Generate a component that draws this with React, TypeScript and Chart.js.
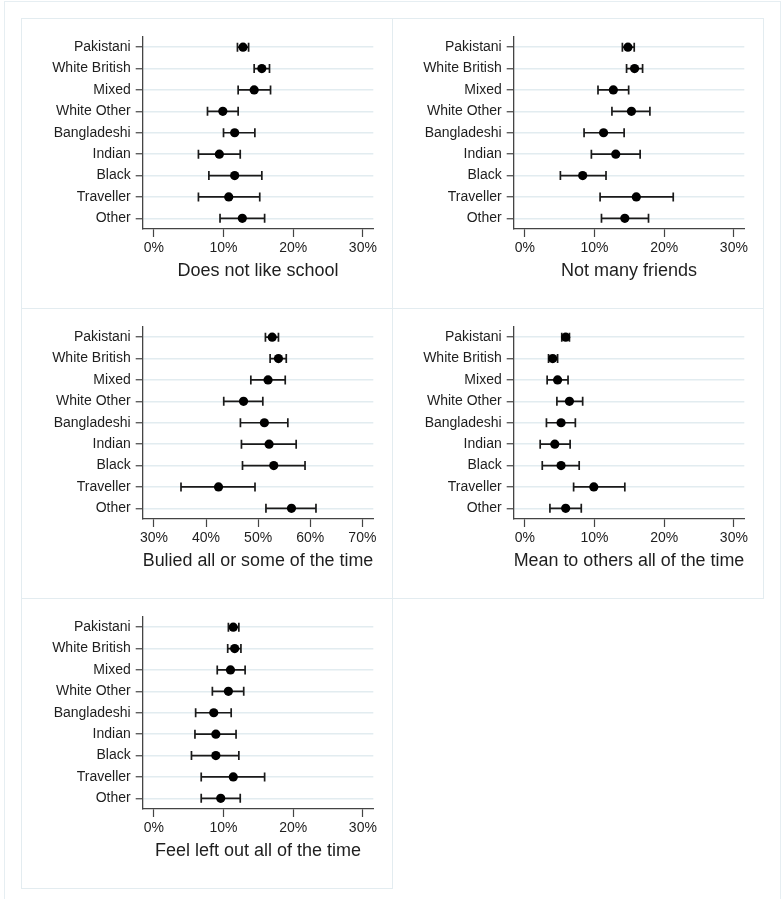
import React, { useEffect, useRef } from 'react';
import { Chart, registerables } from 'chart.js';

Chart.register(...registerables);

const FONT = '"Liberation Sans", Arial, sans-serif';

const categories = ['Pakistani', 'White British', 'Mixed', 'White Other', 'Bangladeshi', 'Indian', 'Black', 'Traveller', 'Other'];

const schoolEst = [12.8, 15.5, 14.4, 9.9, 11.6, 9.4, 11.6, 10.75, 12.7];
const schoolLo = [12.0, 14.4, 12.1, 7.7, 10.0, 6.4, 7.9, 6.4, 9.5];
const schoolHi = [13.6, 16.6, 16.75, 12.1, 14.5, 12.4, 15.5, 15.2, 15.9];

const friendsEst = [14.8, 15.75, 12.7, 15.3, 11.3, 13.05, 8.3, 16.0, 14.35];
const friendsLo = [14.0, 14.6, 10.5, 12.5, 8.5, 9.55, 5.1, 10.8, 11.0];
const friendsHi = [15.7, 16.9, 14.9, 17.95, 14.25, 16.55, 11.65, 21.3, 17.75];

const bulliedEst = [52.7, 53.9, 51.9, 47.2, 51.2, 52.1, 53.0, 42.4, 56.4];
const bulliedLo = [51.4, 52.3, 48.6, 43.4, 46.6, 46.8, 47.0, 35.2, 51.5];
const bulliedHi = [53.9, 55.4, 55.2, 50.9, 55.7, 57.3, 59.0, 49.4, 61.1];

const meanEst = [5.86, 4.0, 4.7, 6.4, 5.2, 4.3, 5.2, 9.9, 5.86];
const meanLo = [5.3, 3.4, 3.2, 4.6, 3.1, 2.2, 2.5, 7.0, 3.6];
const meanHi = [6.4, 4.7, 6.2, 8.3, 7.25, 6.5, 7.8, 14.35, 8.1];

const leftOutEst = [11.4, 11.6, 11.0, 10.7, 8.6, 8.9, 8.9, 11.4, 9.6];
const leftOutLo = [10.7, 10.6, 9.1, 8.4, 6.0, 5.9, 5.4, 6.8, 6.8];
const leftOutHi = [12.2, 12.5, 13.1, 12.9, 11.1, 11.8, 12.2, 15.9, 12.4];

const pctTicks = [0, 10, 20, 30];
const bulliedTicks = [30, 40, 50, 60, 70];

const titles = [
  'Does not like school',
  'Not many friends',
  'Bulied all or some of the time',
  'Mean to others all of the time',
  'Feel left out all of the time',
];

const PW = 371;
const PH = 290;

type PanelProps = {
  left: number;
  top: number;
  title: string;
  est: number[];
  lo: number[];
  hi: number[];
  xMin: number;
  xMax: number;
  xTicks: number[];
};

function Panel({ left, top, title, est, lo, hi, xMin, xMax, xTicks }: PanelProps) {
  const ref = useRef<HTMLCanvasElement>(null);
  useEffect(() => {
    const errorBars = {
      id: 'errorBars',
      beforeDatasetsDraw(chart: any) {
        const { ctx } = chart;
        const xs = chart.scales.x;
        const ys = chart.scales.y;
        ctx.save();
        ctx.strokeStyle = '#1a1a1a';
        ctx.lineWidth = 1.7;
        for (let i = 0; i < est.length; i++) {
          const py = ys.getPixelForValue(i + 1);
          const x1 = xs.getPixelForValue(lo[i]);
          const x2 = xs.getPixelForValue(hi[i]);
          ctx.beginPath();
          ctx.moveTo(x1, py);
          ctx.lineTo(x2, py);
          ctx.moveTo(x1, py - 4.5);
          ctx.lineTo(x1, py + 4.5);
          ctx.moveTo(x2, py - 4.5);
          ctx.lineTo(x2, py + 4.5);
          ctx.stroke();
        }
        ctx.restore();
      },
    };
    const chart = new Chart(ref.current as HTMLCanvasElement, {
      type: 'scatter',
      data: {
        datasets: [
          {
            data: est.map((v, i) => ({ x: v, y: i + 1 })),
            pointRadius: 4.6,
            pointHoverRadius: 4.6,
            pointBackgroundColor: '#000',
            pointBorderColor: '#000',
            pointBorderWidth: 0,
          },
        ],
      },
      options: {
        animation: false,
        responsive: false,
        events: [],
        layout: { padding: { left: 0, top: 18.5, right: 18.7, bottom: 26.2 } },
        plugins: { legend: { display: false }, tooltip: { enabled: false } },
        scales: {
          x: {
            type: 'linear',
            min: xMin,
            max: xMax,
            afterBuildTicks: (s: any) => {
              s.ticks = xTicks.map((v) => ({ value: v }));
            },
            afterFit: (s: any) => {
              s.height = 52.8;
            },
            ticks: {
              callback: (v: any) => v + '%',
              font: { family: FONT, size: 14 },
              color: '#1e1e1e',
              padding: 3,
              autoSkip: false,
              maxRotation: 0,
            },
            grid: {
              drawOnChartArea: false,
              drawTicks: true,
              tickLength: 8,
              tickColor: '#444',
              tickWidth: 1.2,
            },
            border: { color: '#444', width: 1.3 },
            title: {
              display: true,
              text: title,
              font: { family: FONT, size: 18 },
              color: '#1e1e1e',
              padding: 0,
            },
          },
          y: {
            type: 'linear',
            min: 0.5,
            max: 9.5,
            reverse: true,
            afterBuildTicks: (s: any) => {
              s.ticks = categories.map((_, i) => ({ value: i + 1 }));
            },
            afterFit: (s: any) => {
              s.width = 121.7;
            },
            ticks: {
              callback: (v: any) => categories[v - 1] ?? '',
              font: { family: FONT, size: 14 },
              color: '#1e1e1e',
              padding: 5,
              autoSkip: false,
            },
            grid: {
              color: '#e2ecf0',
              lineWidth: 1.5,
              drawTicks: true,
              tickLength: 7,
              tickColor: '#444',
              tickWidth: 1.2,
            },
            border: { color: '#444', width: 1.3 },
          },
        },
      } as any,
      plugins: [errorBars],
    });
    return () => chart.destroy();
  }, []);
  return (
    <>
      <div
        style={{
          position: 'absolute',
          left,
          top,
          width: PW + 1,
          height: PH + 1,
          border: '1px solid #e3ecf0',
          boxSizing: 'border-box',
        }}
      />
      <canvas
        ref={ref}
        width={PW}
        height={PH}
        style={{ position: 'absolute', left, top, width: PW, height: PH }}
      />
    </>
  );
}

export default function App() {
  return (
    <div
      style={{
        position: 'absolute',
        left: 0,
        top: 0,
        width: 784,
        height: 899,
        background: '#fff',
        overflow: 'hidden',
      }}
    >
      <div
        style={{
          position: 'absolute',
          left: 4,
          top: 1,
          width: 777,
          height: 920,
          border: '1px solid #e6eef2',
          boxSizing: 'border-box',
        }}
      />
      <Panel left={21} top={18} title={titles[0]} est={schoolEst} lo={schoolLo} hi={schoolHi} xMin={-1.6} xMax={31.5} xTicks={pctTicks} />
      <Panel left={392} top={18} title={titles[1]} est={friendsEst} lo={friendsLo} hi={friendsHi} xMin={-1.6} xMax={31.5} xTicks={pctTicks} />
      <Panel left={21} top={308} title={titles[2]} est={bulliedEst} lo={bulliedLo} hi={bulliedHi} xMin={27.85} xMax={72.1} xTicks={bulliedTicks} />
      <Panel left={392} top={308} title={titles[3]} est={meanEst} lo={meanLo} hi={meanHi} xMin={-1.6} xMax={31.5} xTicks={pctTicks} />
      <Panel left={21} top={598} title={titles[4]} est={leftOutEst} lo={leftOutLo} hi={leftOutHi} xMin={-1.6} xMax={31.5} xTicks={pctTicks} />
    </div>
  );
}
